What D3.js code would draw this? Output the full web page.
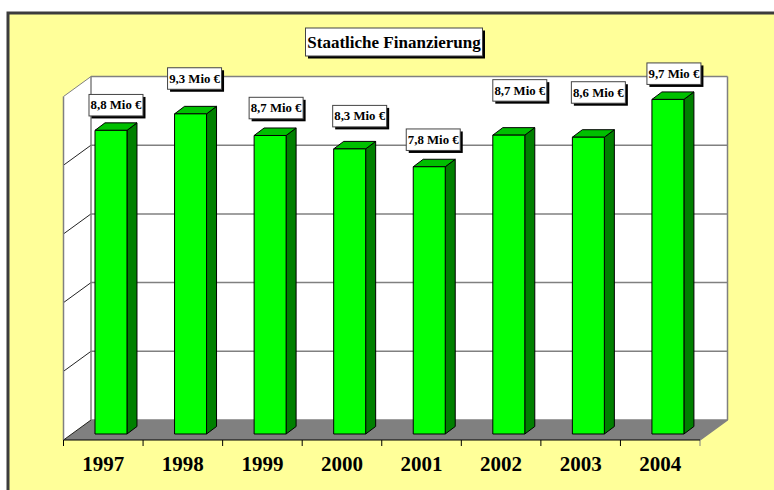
<!DOCTYPE html>
<html>
<head>
<meta charset="utf-8">
<script src="https://cdn.jsdelivr.net/npm/d3@7"></script>
<style>
  html, body { margin: 0; padding: 0; background: #fff; overflow: hidden; }
  text { font-family: "Liberation Serif", serif; font-weight: bold; fill: #000; }
</style>
</head>
<body>
<div id="chart"></div>
<script>
const years = ['1997', '1998', '1999', '2000', '2001', '2002', '2003', '2004'];
const funding = [8.84, 9.32, 8.69, 8.3, 7.78, 8.7, 8.64, 9.74];
const valueLabels = ['8,8 Mio €', '9,3 Mio €', '8,7 Mio €', '8,3 Mio €', '7,8 Mio €', '8,7 Mio €', '8,6 Mio €', '9,7 Mio €'];
const gridTicks = [0, 2, 4, 6, 8, 10];
const chartTitle = 'Staatliche Finanzierung';

// hand placed labels in the original, px from the bar's top left corner
const labelDx = [-6, -7, -5, -1, -7, 0, -1, -5];
const labelLift = [14.4, 24.6, 16.7, 22, 16.3, 34, 34, 15];

const width = 774, height = 490;
const floorY = 440, topY = 96.5;
const left = 63.5, right = 700;
const depthX = 27.5, depthY = -20;      // depth of the whole plot box
const barShiftX = 7.7, barShiftY = -6;  // bars stand a bit back on the floor
const barDepthX = 10, barDepthY = -7.5;

const svg = d3.select('#chart').append('svg')
  .attr('width', width)
  .attr('height', height)
  .style('display', 'block');

const x = d3.scaleBand().domain(years).range([left, right]).paddingInner(0.598).paddingOuter(0.299);
const y = d3.scaleLinear().domain([0, 10]).range([floorY, topY]);

const poly = pts => pts.map(p => p.join(',')).join(' ');

// -------------------
// Background frame
svg.append('rect')
  .attr('x', 8).attr('y', 13)
  .attr('width', width + 10).attr('height', height + 10)
  .attr('fill', '#ffff99')
  .attr('stroke', '#3c3c3c')
  .attr('stroke-width', 3);

// -------------------
// Walls and floor
const wallTop = y(10);
svg.append('polygon')
  .attr('points', poly([[left + depthX, wallTop + depthY], [right + depthX, wallTop + depthY], [right + depthX, floorY + depthY], [left + depthX, floorY + depthY]]))
  .attr('fill', '#fff');
svg.append('polygon')
  .attr('points', poly([[left, wallTop], [left + depthX, wallTop + depthY], [left + depthX, floorY + depthY], [left, floorY]]))
  .attr('fill', '#fff');
svg.append('polygon')
  .attr('points', poly([[left, floorY], [left + depthX, floorY + depthY], [right + depthX, floorY + depthY], [right, floorY]]))
  .attr('fill', '#808080');

// gridlines on the back wall and the diagonals on the side wall
svg.append('g').selectAll('line')
  .data(gridTicks)
  .enter()
  .append('line')
  .attr('x1', left + depthX)
  .attr('x2', right + depthX)
  .attr('y1', d => y(d) + depthY)
  .attr('y2', d => y(d) + depthY)
  .attr('stroke', '#808080')
  .attr('stroke-width', 1.5);

svg.append('g').selectAll('line')
  .data(gridTicks)
  .enter()
  .append('line')
  .attr('x1', left)
  .attr('x2', left + depthX)
  .attr('y1', d => y(d))
  .attr('y2', d => y(d) + depthY)
  .attr('stroke', d => d === 10 ? '#808080' : '#222')
  .attr('stroke-width', 1);

const edges = [
  [left, wallTop, left, floorY],
  [left + depthX, wallTop + depthY, left + depthX, floorY + depthY],
  [right + depthX, wallTop + depthY, right + depthX, floorY + depthY],
  [right, floorY, right + depthX, floorY + depthY]
];
svg.append('g').selectAll('line')
  .data(edges)
  .enter()
  .append('line')
  .attr('x1', d => d[0]).attr('y1', d => d[1])
  .attr('x2', d => d[2]).attr('y2', d => d[3])
  .attr('stroke', '#808080')
  .attr('stroke-width', 1.5);

// -------------------
// Year axis, ticks sit between the categories
const boundaries = d3.range(years.length + 1).map(i => left + i * x.step());
svg.append('g').selectAll('line')
  .data(boundaries)
  .enter()
  .append('line')
  .attr('x1', d => d).attr('x2', d => d)
  .attr('y1', floorY).attr('y2', floorY + 6)
  .attr('stroke', (d, i) => i === years.length ? '#808080' : '#000')
  .attr('stroke-width', 1);
svg.append('line')
  .attr('x1', left).attr('x2', right)
  .attr('y1', floorY).attr('y2', floorY)
  .attr('stroke', '#000')
  .attr('stroke-width', 1.2);

svg.append('g').selectAll('text')
  .data(years)
  .enter()
  .append('text')
  .attr('x', d => x(d) + x.bandwidth() / 2)
  .attr('y', 471)
  .attr('text-anchor', 'middle')
  .style('font-size', '21px')
  .text(d => d);

// -------------------
// Bars
const barData = years.map((year, i) => ({
  year,
  x0: x(year) + barShiftX,
  x1: x(year) + barShiftX + x.bandwidth(),
  base: floorY + barShiftY,
  top: y(funding[i]) + barShiftY,
  label: valueLabels[i],
  dx: labelDx[i],
  lift: labelLift[i]
}));

const bars = svg.append('g').selectAll('g')
  .data(barData)
  .enter()
  .append('g')
  .attr('stroke', '#000')
  .attr('stroke-width', 1)
  .attr('stroke-linejoin', 'round');

bars.append('polygon')
  .attr('points', d => poly([[d.x1, d.top], [d.x1 + barDepthX, d.top + barDepthY], [d.x1 + barDepthX, d.base + barDepthY], [d.x1, d.base]]))
  .attr('fill', '#008000');
bars.append('polygon')
  .attr('points', d => poly([[d.x0, d.top], [d.x0 + barDepthX, d.top + barDepthY], [d.x1 + barDepthX, d.top + barDepthY], [d.x1, d.top]]))
  .attr('fill', '#00c000');
bars.append('rect')
  .attr('x', d => d.x0)
  .attr('y', d => d.top)
  .attr('width', x.bandwidth())
  .attr('height', d => d.base - d.top)
  .attr('fill', '#00ff00');

// -------------------
// Boxed labels
function boxedText(parent, bx, by, w, h, txt, size) {
  const g = parent.append('g');
  g.append('rect')
    .attr('x', bx + 2.5).attr('y', by + 2.5)
    .attr('width', w).attr('height', h)
    .attr('fill', '#000');
  g.append('rect')
    .attr('x', bx).attr('y', by)
    .attr('width', w).attr('height', h)
    .attr('fill', '#fff')
    .attr('stroke', '#444')
    .attr('stroke-width', 1);
  g.append('text')
    .attr('x', bx + w / 2)
    .attr('y', by + h / 2)
    .attr('dy', '0.33em')
    .attr('text-anchor', 'middle')
    .style('font-size', size + 'px')
    .text(txt);
}

barData.forEach(d => {
  boxedText(svg, d.x0 + d.dx, d.top - d.lift - 21.5, 54, 21.5, d.label, 12.8);
});
boxedText(svg, 305.5, 28, 177, 28, chartTitle, 17);
</script>
</body>
</html>
